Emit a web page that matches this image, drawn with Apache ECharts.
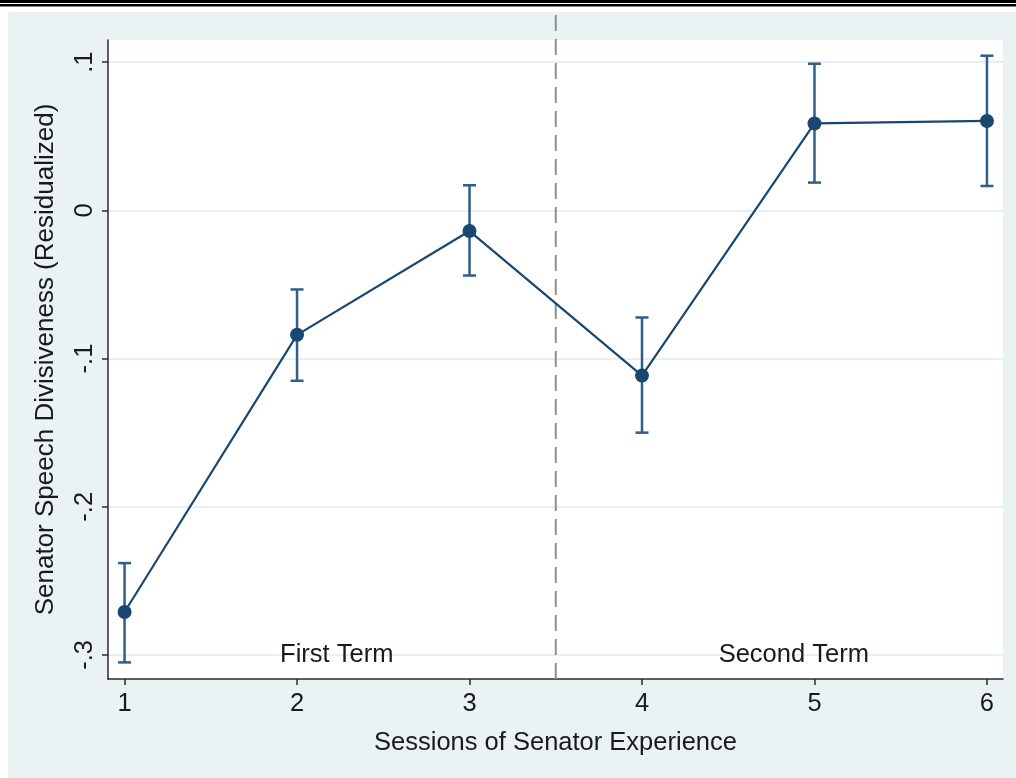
<!DOCTYPE html>
<html>
<head>
<meta charset="utf-8">
<title>Senator Speech Divisiveness by Session</title>
<script src="https://cdn.jsdelivr.net/npm/echarts@6/dist/echarts.min.js"></script>
<style>
  html, body { margin: 0; padding: 0; background: #ffffff; }
  #chart { width: 1016px; height: 778px; }
</style>
</head>
<body>
<div id="chart"></div>
<script>
// Sessions of experience and the residualized divisiveness estimates
const sessions  = [1, 2, 3, 4, 5, 6];
const estimates = [-0.271, -0.084, -0.014, -0.1115, 0.0586, 0.0603];
const lowerCI   = [-0.305, -0.115, -0.044, -0.150, 0.0187, 0.0164];
const upperCI   = [-0.238, -0.0534, 0.0169, -0.0723, 0.0989, 0.1043];

// Axis ticks
const yTickValues = [-0.3, -0.2, -0.1, 0, 0.1];
const yTickLabels = ['-.3', '-.2', '-.1', '0', '.1'];
const xTickValues = [1, 2, 3, 4, 5, 6];
const xTickLabels = ['1', '2', '3', '4', '5', '6'];

// Term annotations and the boundary between terms
const termNames = ['First Term', 'Second Term'];
const termX = [2.23, 4.88];
const termY = [-0.3, -0.3];
const termBoundary = 3.5;

const FONT = '"Liberation Sans", Arial, Helvetica, sans-serif';
const TEXT = '#1a1a1a';
const NAVY = '#1a476f';
const BAR = '#2f5e88';
const FS = 25.5;

const xRange = { min: 0.904, max: 6.093 };
const yRange = { min: -0.3162, max: 0.1149 };

const chart = echarts.init(document.getElementById('chart'), null, { renderer: 'canvas' });

const option = {
  animation: false,
  backgroundColor: '#ffffff',
  textStyle: { fontFamily: FONT, color: TEXT },
  graphic: [
    { type: 'rect', z: -10, shape: { x: 8, y: 12, width: 1008, height: 766 }, style: { fill: '#eaf2f3' } },
    { type: 'rect', z: -10, shape: { x: 0, y: 0, width: 1016, height: 3 }, style: { fill: '#000' } },
    { type: 'rect', z: -10, shape: { x: 0, y: 4, width: 1016, height: 2.5 }, style: { fill: '#000' } }
  ],
  grid: [
    { left: 108, right: 13, top: 40, bottom: 99, show: true, backgroundColor: '#ffffff', borderWidth: 0 },
    { left: 108, right: 13, top: 12, bottom: 99, show: false }
  ],
  xAxis: [
    {
      type: 'value', gridIndex: 0, min: xRange.min, max: xRange.max,
      name: 'Sessions of Senator Experience', nameLocation: 'middle', nameGap: 51,
      nameTextStyle: { fontSize: FS, color: TEXT, fontFamily: FONT },
      axisLine: { show: true, onZero: false, lineStyle: { color: '#2b2b2b', width: 1.5 } },
      axisTick: { show: true, length: 6, customValues: xTickValues, lineStyle: { color: '#2b2b2b', width: 1.5 } },
      axisLabel: {
        show: true, customValues: xTickValues, margin: 12, fontSize: FS, color: TEXT, fontFamily: FONT,
        formatter: v => xTickLabels[xTickValues.indexOf(v)]
      },
      splitLine: { show: false }
    },
    {
      type: 'value', gridIndex: 1, min: xRange.min, max: xRange.max, show: false
    }
  ],
  yAxis: [
    {
      type: 'value', gridIndex: 0, min: yRange.min, max: yRange.max,
      name: 'Senator Speech Divisiveness (Residualized)', nameLocation: 'middle', nameRotate: 90, nameGap: 49,
      nameTextStyle: { fontSize: 26, color: TEXT, fontFamily: FONT },
      axisLine: { show: true, onZero: false, lineStyle: { color: '#2b2b2b', width: 1.5 } },
      axisTick: { show: true, length: 6, customValues: yTickValues, lineStyle: { color: '#2b2b2b', width: 1.5 } },
      axisLabel: {
        show: true, customValues: yTickValues, rotate: 90, margin: 10, fontSize: FS, color: TEXT, fontFamily: FONT,
        formatter: v => yTickLabels[yTickValues.indexOf(v)]
      },
      splitLine: { show: true, lineStyle: { color: '#e9f0f1', width: 2 } }
    },
    {
      type: 'value', gridIndex: 1, min: 0, max: 1, show: false
    }
  ],
  series: [
    {
      // dashed boundary between first and second term
      type: 'line', xAxisIndex: 1, yAxisIndex: 1, z: 1,
      data: [[termBoundary, 0], [termBoundary, 1]],
      symbol: 'none', silent: true,
      lineStyle: { color: '#8f8f8f', width: 2, type: [16, 8] }
    },
    {
      // confidence intervals with caps
      type: 'custom', xAxisIndex: 0, yAxisIndex: 0, z: 2,
      data: sessions.map((s, i) => [s, lowerCI[i], upperCI[i]]),
      renderItem: function (params, api) {
        const lo = api.coord([api.value(0), api.value(1)]);
        const hi = api.coord([api.value(0), api.value(2)]);
        const w = 6.5;
        const style = { stroke: BAR, lineWidth: 2.5, fill: null };
        return {
          type: 'group',
          children: [
            { type: 'line', shape: { x1: lo[0], y1: lo[1], x2: hi[0], y2: hi[1] }, style: style },
            { type: 'line', shape: { x1: lo[0] - w, y1: lo[1], x2: lo[0] + w, y2: lo[1] }, style: style },
            { type: 'line', shape: { x1: hi[0] - w, y1: hi[1], x2: hi[0] + w, y2: hi[1] }, style: style }
          ]
        };
      }
    },
    {
      // point estimates joined by a line
      type: 'line', xAxisIndex: 0, yAxisIndex: 0, z: 3,
      data: sessions.map((s, i) => [s, estimates[i]]),
      symbol: 'circle', symbolSize: 14, showSymbol: true,
      itemStyle: { color: NAVY },
      lineStyle: { color: NAVY, width: 2.2 }
    },
    {
      // term annotations
      type: 'scatter', xAxisIndex: 0, yAxisIndex: 0, z: 4,
      data: termNames.map((n, i) => ({ name: n, value: [termX[i], termY[i]] })),
      symbolSize: 0, itemStyle: { color: TEXT, opacity: 1 }, silent: true,
      label: {
        show: true, position: 'inside', formatter: p => p.name,
        fontSize: FS, color: TEXT, fontFamily: FONT, opacity: 1
      }
    }
  ]
};

chart.setOption(option);
</script>
</body>
</html>
